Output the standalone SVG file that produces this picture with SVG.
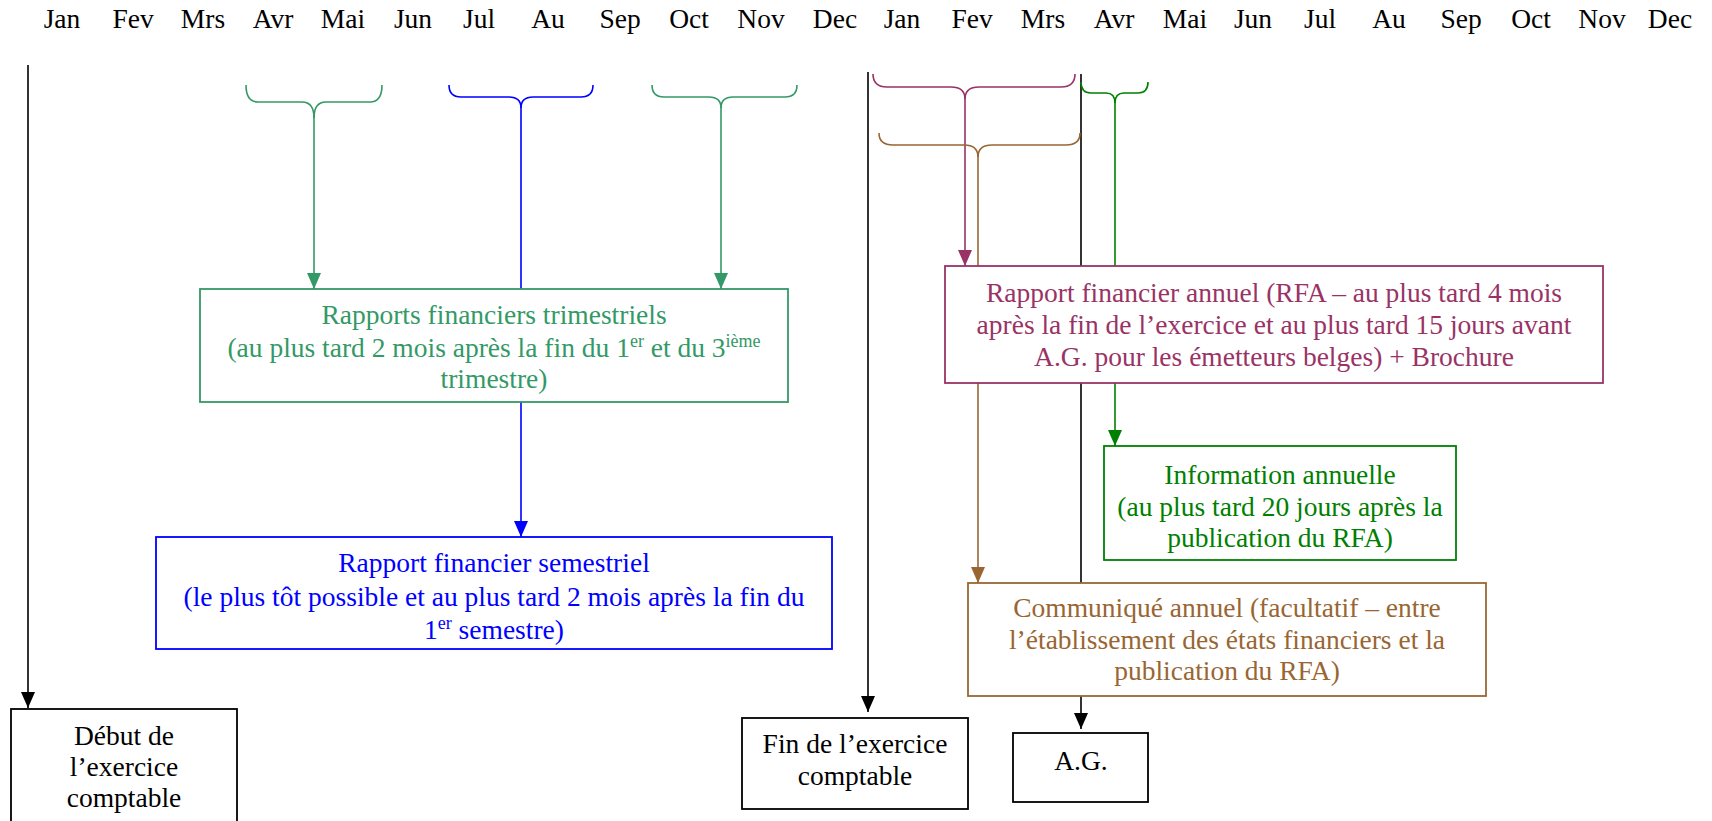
<svg xmlns="http://www.w3.org/2000/svg" width="1712" height="821" viewBox="0 0 1712 821">
<style>
text{font-family:"Liberation Serif","Times New Roman",serif;font-size:27.5px;text-anchor:middle}
.m{text-anchor:middle}
.box{fill:#fff;stroke-width:1.8}
.ln{fill:none;stroke-width:1.6}
.k{stroke:#000}.kt{fill:#000}
.sg{stroke:#339966}.sgt{fill:#339966}
.bl{stroke:#0000ff}.blt{fill:#0000ff}
.pl{stroke:#993366}.plt{fill:#993366}
.br{stroke:#996633}.brt{fill:#996633}
.gr{stroke:#008000}.grt{fill:#008000}
.sup{font-size:18px}
</style>
<defs>
<marker id="ak" markerUnits="userSpaceOnUse" viewBox="0 0 16 14" refX="16" refY="7" markerWidth="16" markerHeight="14" orient="auto"><path d="M0,0L16,7L0,14z" fill="#000"/></marker>
<marker id="asg" markerUnits="userSpaceOnUse" viewBox="0 0 16 14" refX="16" refY="7" markerWidth="16" markerHeight="14" orient="auto"><path d="M0,0L16,7L0,14z" fill="#339966"/></marker>
<marker id="abl" markerUnits="userSpaceOnUse" viewBox="0 0 16 14" refX="16" refY="7" markerWidth="16" markerHeight="14" orient="auto"><path d="M0,0L16,7L0,14z" fill="#0000ff"/></marker>
<marker id="apl" markerUnits="userSpaceOnUse" viewBox="0 0 16 14" refX="16" refY="7" markerWidth="16" markerHeight="14" orient="auto"><path d="M0,0L16,7L0,14z" fill="#993366"/></marker>
<marker id="abr" markerUnits="userSpaceOnUse" viewBox="0 0 16 14" refX="16" refY="7" markerWidth="16" markerHeight="14" orient="auto"><path d="M0,0L16,7L0,14z" fill="#996633"/></marker>
<marker id="agr" markerUnits="userSpaceOnUse" viewBox="0 0 16 14" refX="16" refY="7" markerWidth="16" markerHeight="14" orient="auto"><path d="M0,0L16,7L0,14z" fill="#008000"/></marker>
</defs>
<rect width="1712" height="821" fill="#fff"/>
<g id="months">
<text x="62" y="28">Jan</text><text x="133" y="28">Fev</text><text x="203" y="28">Mrs</text><text x="273" y="28">Avr</text><text x="343" y="28">Mai</text><text x="413" y="28">Jun</text><text x="479" y="28">Jul</text><text x="548" y="28">Au</text><text x="620" y="28">Sep</text><text x="689" y="28">Oct</text><text x="761" y="28">Nov</text><text x="835" y="28">Dec</text>
<text x="902" y="28">Jan</text><text x="972" y="28">Fev</text><text x="1043" y="28">Mrs</text><text x="1114" y="28">Avr</text><text x="1185" y="28">Mai</text><text x="1253" y="28">Jun</text><text x="1320" y="28">Jul</text><text x="1389" y="28">Au</text><text x="1461" y="28">Sep</text><text x="1531" y="28">Oct</text><text x="1602" y="28">Nov</text><text x="1670" y="28">Dec</text>
</g>
<g id="connectors">
<path class="ln k" d="M28,65V708" marker-end="url(#ak)"/>
<path class="ln k" d="M868,72V712" marker-end="url(#ak)"/>
<path class="ln k" d="M1081,74V729" marker-end="url(#ak)"/>
<path class="ln sg" d="M246,85Q246,102 258,102H302Q314,102 314,118M314,118Q314,102 326,102H370Q382,102 382,85"/>
<path class="ln sg" d="M314,112V289" marker-end="url(#asg)"/>
<path class="ln bl" d="M449,85Q449,97 461,97H509Q521,97 521,108M521,108Q521,97 533,97H581Q593,97 593,85"/>
<path class="ln bl" d="M521,106V537" marker-end="url(#abl)"/>
<path class="ln sg" d="M652,85Q652,97 664,97H709Q721,97 721,108M721,108Q721,97 733,97H785Q797,97 797,85"/>
<path class="ln sg" d="M721,106V289" marker-end="url(#asg)"/>
<path class="ln pl" d="M873,74Q873,87 887,87H951Q965,87 965,99M965,99Q965,87 979,87H1061Q1075,87 1075,74"/>
<path class="ln pl" d="M965,97V266" marker-end="url(#apl)"/>
<path class="ln br" d="M879,133Q879,145 893,145H964Q978,145 978,157M978,157Q978,145 992,145H1066Q1080,145 1080,133"/>
<path class="ln br" d="M978,155V583" marker-end="url(#abr)"/>
<path class="ln gr" d="M1081,82Q1081,93 1091,93H1106Q1115,93 1115,103M1115,103Q1115,93 1124,93H1138Q1148,93 1148,82"/>
<path class="ln gr" d="M1115,101V446" marker-end="url(#agr)"/>
</g>
<g id="trimestriels">
<rect class="box sg" x="200" y="289" width="588" height="113"/>
<text class="sgt" x="494" y="324">Rapports financiers trimestriels</text>
<text class="sgt" x="494" y="357">(au plus tard 2 mois après la fin du 1<tspan class="sup" dy="-10">er</tspan><tspan dy="10"> et du 3</tspan><tspan class="sup" dy="-10">ième</tspan></text>
<text class="sgt" x="494" y="388">trimestre)</text>
</g>
<g id="semestriel">
<rect class="box bl" x="156" y="537" width="676" height="112"/>
<text class="blt" x="494" y="572">Rapport financier semestriel</text>
<text class="blt" x="494" y="606">(le plus tôt possible et au plus tard 2 mois après la fin du</text>
<text class="blt" x="494" y="639">1<tspan class="sup" dy="-10">er</tspan><tspan dy="10"> semestre)</tspan></text>
</g>
<g id="rfa">
<rect class="box pl" x="945" y="266" width="658" height="117"/>
<text class="plt" x="1274" y="302">Rapport financier annuel (RFA – au plus tard 4 mois</text>
<text class="plt" x="1274" y="334">après la fin de l’exercice et au plus tard 15 jours avant</text>
<text class="plt" x="1274" y="366">A.G. pour les émetteurs belges) + Brochure</text>
</g>
<g id="information">
<rect class="box gr" x="1104" y="446" width="352" height="114"/>
<text class="grt" x="1280" y="484">Information annuelle</text>
<text class="grt" x="1280" y="516">(au plus tard 20 jours après la</text>
<text class="grt" x="1280" y="547">publication du RFA)</text>
</g>
<g id="communique">
<rect class="box br" x="968" y="583" width="518" height="113"/>
<text class="brt" x="1227" y="617">Communiqué annuel (facultatif – entre</text>
<text class="brt" x="1227" y="649">l’établissement des états financiers et la</text>
<text class="brt" x="1227" y="680">publication du RFA)</text>
</g>
<g id="debut">
<rect class="box k" x="11" y="709" width="226" height="130"/>
<text x="124" y="745">Début de</text>
<text x="124" y="776">l’exercice</text>
<text x="124" y="807">comptable</text>
</g>
<g id="fin">
<rect class="box k" x="742" y="718" width="226" height="91"/>
<text x="855" y="753">Fin de l’exercice</text>
<text x="855" y="785">comptable</text>
</g>
<g id="ag">
<rect class="box k" x="1013" y="733" width="135" height="69"/>
<text x="1081" y="770">A.G.</text>
</g>
</svg>
